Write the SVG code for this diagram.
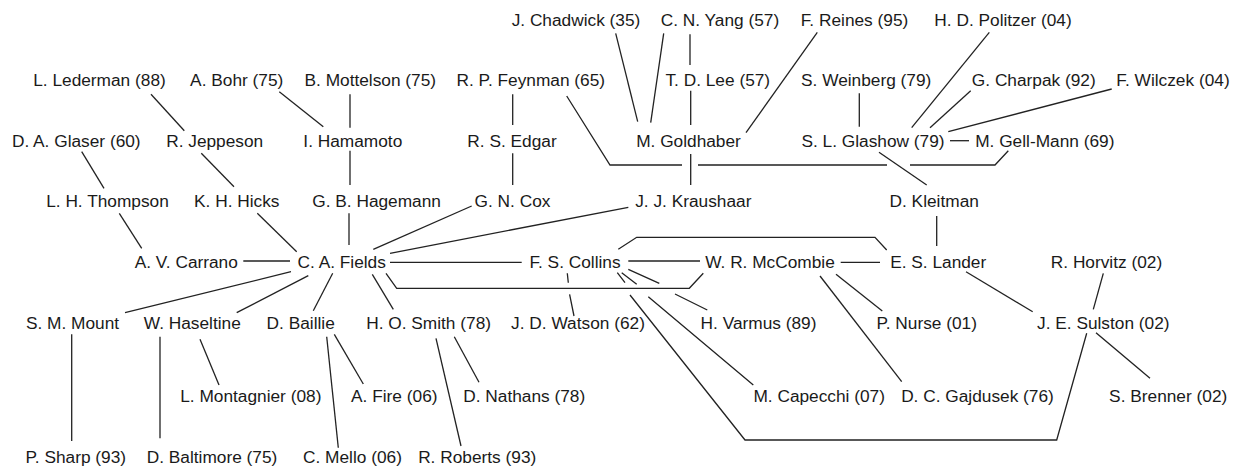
<svg xmlns="http://www.w3.org/2000/svg" width="1241" height="470" viewBox="0 0 1241 470">
<style>
text{font-family:"Liberation Sans",Arial,sans-serif;font-size:17.3px;fill:#1a1a1a;text-anchor:middle}
.e{fill:none;stroke:#222;stroke-width:1.3}
</style>
<rect width="1241" height="470" fill="#fff"/>
<g id="connectors">
<path class="e" d="M151,94.3L184.3,130.7"/>
<path class="e" d="M279.3,91.7L323.3,126.7"/>
<path class="e" d="M350,94.3V127.7"/>
<path class="e" d="M81.7,151.7L104,188.3"/>
<path class="e" d="M201.3,153.3L234,186.7"/>
<path class="e" d="M350,150.7V185"/>
<path class="e" d="M119.3,213.3L141.7,248.3"/>
<path class="e" d="M257.3,213.3L296.7,251.7"/>
<path class="e" d="M349,213.3V245"/>
<path class="e" d="M471.7,206L373.3,249.3"/>
<path class="e" d="M628.3,207.3L390,253.3"/>
<path class="e" d="M390,262.3H521.7"/>
<path class="e" d="M386,273.3L396.7,288.3H689.3L703.3,273.3"/>
<path class="e" d="M243.3,261H290"/>
<path class="e" d="M291,271.7L125,312.7"/>
<path class="e" d="M308.3,275.7L236.7,312.7"/>
<path class="e" d="M332.7,273.3L313.3,310.7"/>
<path class="e" d="M372.3,274.3L393.3,309.3"/>
<path class="e" d="M71.7,334.3V441"/>
<path class="e" d="M160,336.7V438.3"/>
<path class="e" d="M200,339.3L219,385"/>
<path class="e" d="M326.7,336.7L338.3,447.7"/>
<path class="e" d="M334.3,334.3L363.3,384"/>
<path class="e" d="M436,338.3L461,446"/>
<path class="e" d="M454.3,336.7L479,382.3"/>
<path class="e" d="M567.3,273.3L568.3,282.7M569.6,294.3L574,316"/>
<path class="e" d="M628.3,261H700"/>
<path class="e" d="M618.3,249.3L636.7,237.3H875L886.7,250"/>
<path class="e" d="M840.7,262.3H880"/>
<path class="e" d="M936.7,216V246"/>
<path class="e" d="M628.3,269.3L659.3,283.3M675,294L707.3,310"/>
<path class="e" d="M621.7,272.7L636.7,284.3M648.3,296.7L753.3,385"/>
<path class="e" d="M617.3,272.7L625,282.7M630,295L745,440H1056.7L1086.7,333.3"/>
<path class="e" d="M836,274.3L882.3,311"/>
<path class="e" d="M820,276L901.7,381.7"/>
<path class="e" d="M966,271.7L1032.7,311.7"/>
<path class="e" d="M1103.3,273.3L1093.3,309.3"/>
<path class="e" d="M1096,332.7L1150,378.3"/>
<path class="e" d="M859.3,93.3V126.7"/>
<path class="e" d="M989.3,32.3L911.7,127.7"/>
<path class="e" d="M970.7,90.7L930,127.7"/>
<path class="e" d="M1111.7,89L948.3,131.7"/>
<path class="e" d="M950,140.7H969"/>
<path class="e" d="M879,152.3L926.7,185"/>
<path class="e" d="M566.7,96L610,165H682M698,165H887M910,165H995L1008.3,150.7"/>
<path class="e" d="M615.7,33.3L637.7,121.7"/>
<path class="e" d="M663.7,33.3L650.7,122.7"/>
<path class="e" d="M690,34.3V65"/>
<path class="e" d="M690.7,90.7V125"/>
<path class="e" d="M817.3,32.3L746,132.7"/>
<path class="e" d="M690.7,154V185"/>
<path class="e" d="M512.7,94.3V125"/>
<path class="e" d="M512.7,153.3V185"/>
</g>
<g id="n-chadwick"><text x="576" y="25.5">J. Chadwick (35)</text></g>
<g id="n-yang"><text x="720" y="25.5">C. N. Yang (57)</text></g>
<g id="n-reines"><text x="854.5" y="25.5">F. Reines (95)</text></g>
<g id="n-politzer"><text x="1003" y="25.5">H. D. Politzer (04)</text></g>
<g id="n-lederman"><text x="99.5" y="86">L. Lederman (88)</text></g>
<g id="n-bohr"><text x="236.7" y="86">A. Bohr (75)</text></g>
<g id="n-mottelson"><text x="370.3" y="86">B. Mottelson (75)</text></g>
<g id="n-feynman"><text x="530.8" y="86">R. P. Feynman (65)</text></g>
<g id="n-lee"><text x="717.8" y="86">T. D. Lee (57)</text></g>
<g id="n-weinberg"><text x="866.2" y="86">S. Weinberg (79)</text></g>
<g id="n-charpak"><text x="1033.8" y="86">G. Charpak (92)</text></g>
<g id="n-wilczek"><text x="1173" y="86">F. Wilczek (04)</text></g>
<g id="n-glaser"><text x="76.3" y="147">D. A. Glaser (60)</text></g>
<g id="n-jeppeson"><text x="214.7" y="147">R. Jeppeson</text></g>
<g id="n-hamamoto"><text x="352.8" y="147">I. Hamamoto</text></g>
<g id="n-edgar"><text x="512" y="147">R. S. Edgar</text></g>
<g id="n-goldhaber"><text x="688.5" y="147">M. Goldhaber</text></g>
<g id="n-glashow"><text x="873" y="147">S. L. Glashow (79)</text></g>
<g id="n-gellmann"><text x="1044.8" y="147">M. Gell-Mann (69)</text></g>
<g id="n-thompson"><text x="107.5" y="207">L. H. Thompson</text></g>
<g id="n-hicks"><text x="236.8" y="207">K. H. Hicks</text></g>
<g id="n-hagemann"><text x="376.6" y="207">G. B. Hagemann</text></g>
<g id="n-cox"><text x="512.5" y="207">G. N. Cox</text></g>
<g id="n-kraushaar"><text x="693.3" y="207">J. J. Kraushaar</text></g>
<g id="n-kleitman"><text x="934.2" y="207">D. Kleitman</text></g>
<g id="n-carrano"><text x="186.3" y="268">A. V. Carrano</text></g>
<g id="n-fields"><text x="341.7" y="268">C. A. Fields</text></g>
<g id="n-collins"><text x="575" y="268">F. S. Collins</text></g>
<g id="n-mccombie"><text x="770" y="268">W. R. McCombie</text></g>
<g id="n-lander"><text x="938.2" y="268">E. S. Lander</text></g>
<g id="n-horvitz"><text x="1106.5" y="268">R. Horvitz (02)</text></g>
<g id="n-mount"><text x="72.5" y="329">S. M. Mount</text></g>
<g id="n-haseltine"><text x="192.3" y="329">W. Haseltine</text></g>
<g id="n-baillie"><text x="300.7" y="329">D. Baillie</text></g>
<g id="n-smith"><text x="428.6" y="329">H. O. Smith (78)</text></g>
<g id="n-watson"><text x="578" y="329">J. D. Watson (62)</text></g>
<g id="n-varmus"><text x="758.5" y="329">H. Varmus (89)</text></g>
<g id="n-nurse"><text x="926.7" y="329">P. Nurse (01)</text></g>
<g id="n-sulston"><text x="1103.3" y="329">J. E. Sulston (02)</text></g>
<g id="n-montagnier"><text x="250.8" y="402">L. Montagnier (08)</text></g>
<g id="n-fire"><text x="394.3" y="402">A. Fire (06)</text></g>
<g id="n-nathans"><text x="524.2" y="402">D. Nathans (78)</text></g>
<g id="n-capecchi"><text x="819.2" y="402">M. Capecchi (07)</text></g>
<g id="n-gajdusek"><text x="977.5" y="402">D. C. Gajdusek (76)</text></g>
<g id="n-brenner"><text x="1168.2" y="402">S. Brenner (02)</text></g>
<g id="n-sharp"><text x="75.8" y="463">P. Sharp (93)</text></g>
<g id="n-baltimore"><text x="212" y="463">D. Baltimore (75)</text></g>
<g id="n-mello"><text x="352.5" y="463">C. Mello (06)</text></g>
<g id="n-roberts"><text x="477.2" y="463">R. Roberts (93)</text></g>
</svg>
